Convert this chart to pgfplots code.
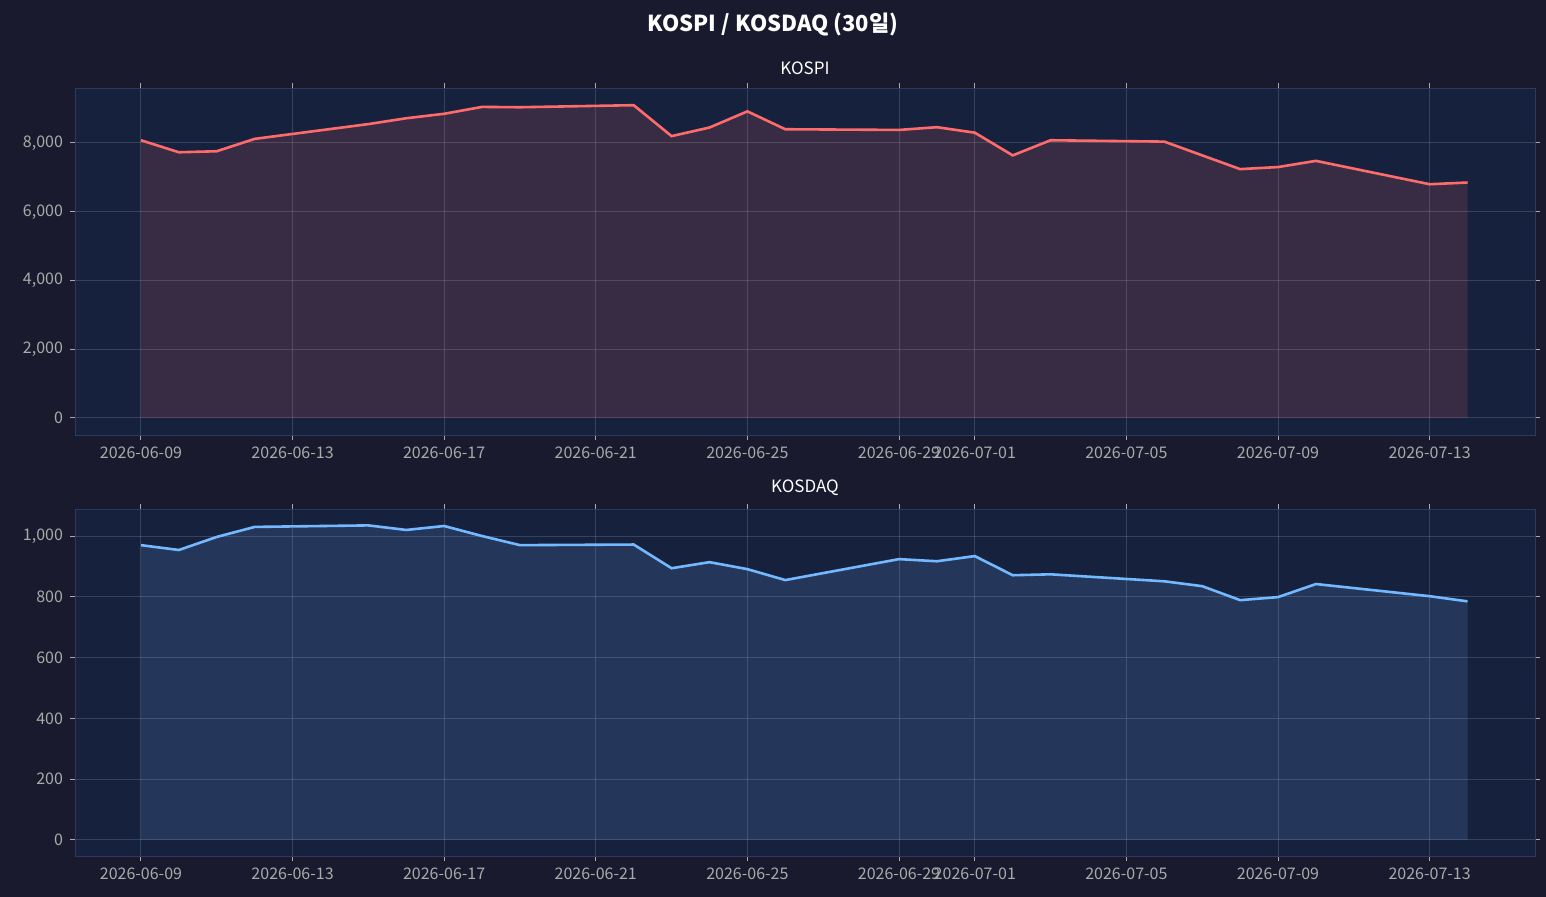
\documentclass[border=0pt]{standalone}
\usepackage{pgfplots}
\pgfplotsset{compat=1.18}
\usepackage{fontspec}
\setmainfont{Noto Sans CJK KR}
\definecolor{figbg}{HTML}{1A1A2E}
\definecolor{axbg}{HTML}{16213E}
\definecolor{kred}{HTML}{FF6B6B}
\definecolor{kblue}{HTML}{74B9FF}
\definecolor{tickc}{HTML}{AAAAAA}
\definecolor{spine}{HTML}{2E3A5C}
\pgfplotstableread{
d v
0 8080
1 7730
2 7760
3 8120
6 8550
7 8720
8 8850
9 9050
10 9040
13 9100
14 8200
15 8450
16 8920
17 8400
20 8380
21 8460
22 8300
23 7640
24 8080
27 8040
29 7240
30 7300
31 7480
34 6800
35 6850
}\kospi
\pgfplotstableread{
d v
0 970
1 954
2 997
3 1030
6 1035
7 1020
8 1033
9 1000
10 970
13 972
14 894
15 914
16 891
17 855
20 924
21 917
22 934
23 871
24 874
27 851
28 835
29 789
30 799
31 842
34 802
35 785
}\kosdaq
\pgfplotsset{
  kstyle/.style={
    scale only axis, width=730pt, height=173.5pt,
    axis background/.style={fill=axbg},
    axis line style={spine},
    xmin=-1.74, xmax=36.78,
    xtick={0,4,8,12,16,20,22,26,30,34},
    xticklabels={2026-06-09,2026-06-13,2026-06-17,2026-06-21,2026-06-25,2026-06-29,2026-07-01,2026-07-05,2026-07-09,2026-07-13},
    grid=major, grid style={white, opacity=0.15, line width=0.5pt},
    tick style={tickc, line width=0.5pt}, tick align=outside, major tick length=2.5pt,
    ticklabel style={font=\fontsize{8}{9}\selectfont, text=tickc},
    /pgf/number format/assume math mode=true,
    /pgf/number format/1000 sep={,},
    scaled y ticks=false,
    title style={font=\fontsize{8.5}{10}\selectfont, text=white, yshift=-3pt},
  }
}
\begin{document}
\begin{tikzpicture}
\fill[figbg] (0,0) rectangle (773pt,448.5pt);
\node[text=white, font=\bfseries\fontsize{11}{13}\selectfont] at (386.5pt,436pt) {KOSPI / KOSDAQ (30일)};
\begin{axis}[kstyle, at={(37.5pt,231pt)}, anchor=south west, ymin=-495, ymax=9600,
  ytick={0,2000,4000,6000,8000}, title={KOSPI}]
\addplot[fill=kred, fill opacity=0.15, draw=none] table[x=d,y=v]{\kospi} \closedcycle;
\addplot[kred, line width=1.3pt] table[x=d,y=v]{\kospi};
\end{axis}
\begin{axis}[kstyle, at={(37.5pt,20.5pt)}, anchor=south west, ymin=-53, ymax=1089,
  ytick={0,200,400,600,800,1000}, title={KOSDAQ}]
\addplot[fill=kblue, fill opacity=0.15, draw=none] table[x=d,y=v]{\kosdaq} \closedcycle;
\addplot[kblue, line width=1.3pt] table[x=d,y=v]{\kosdaq};
\end{axis}
\end{tikzpicture}
\end{document}
